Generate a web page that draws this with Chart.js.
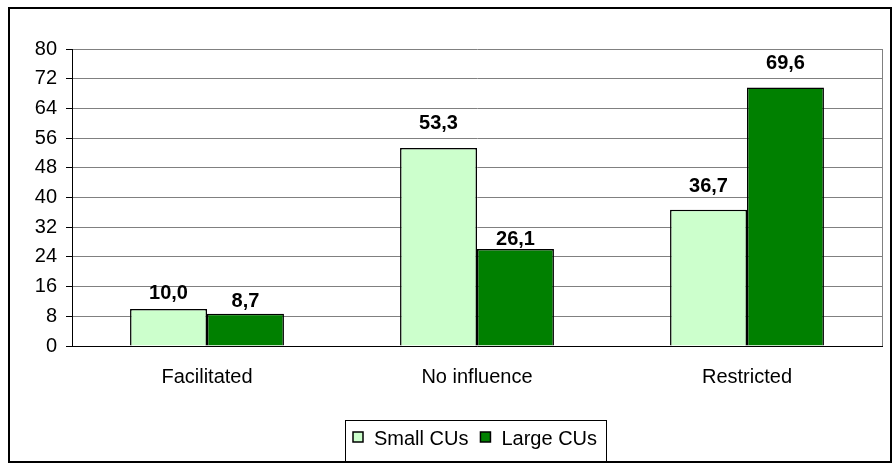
<!DOCTYPE html>
<html>
<head>
<meta charset="utf-8">
<script src="https://cdn.jsdelivr.net/npm/chart.js@4.4.0/dist/chart.umd.min.js"></script>
<style>
  html, body { margin: 0; padding: 0; background: #fff; }
  #wrap { width: 893px; height: 463px; }
</style>
</head>
<body>
<div id="wrap"><canvas id="myChart" width="893" height="463"></canvas></div>
<script>
// categories along the x-axis
var categories = ["Facilitated", "No influence", "Restricted"];
// series values (percent)
var smallCUs = [10.0, 53.3, 36.7];
var largeCUs = [8.7, 26.1, 69.6];
// y axis ticks
var yMax = 80;
var yStep = 8;

var FONT = '"Liberation Sans", Arial, sans-serif';
// how far each value label sits above its bar (px), per series
var labelLift = [[10, 19, 18], [7, 4, 19]];

// frame around the whole chart, gray right edge of plot area, custom boxed legend
var framePlugin = {
  id: 'frame',
  afterDraw: function (chart) {
    var c = chart.ctx;
    var a = chart.chartArea;
    c.save();
    c.strokeStyle = '#808080';
    c.lineWidth = 1;
    c.beginPath();
    c.moveTo(Math.round(a.right) + 0.5, a.top);
    c.lineTo(Math.round(a.right) + 0.5, a.bottom);
    c.stroke();
    c.strokeStyle = '#000';
    c.lineWidth = 2;
    c.strokeRect(9, 8, 882, 454);

    // legend
    c.lineWidth = 1;
    c.strokeRect(345.5, 420.5, 261, 41);
    c.font = '20px ' + FONT;
    c.textBaseline = 'alphabetic';
    c.textAlign = 'left';
    var x = 353;
    chart.data.datasets.forEach(function (ds) {
      c.fillStyle = ds.backgroundColor;
      c.fillRect(x, 432, 10, 10);
      c.strokeStyle = '#000';
      c.lineWidth = 1.5;
      c.strokeRect(x, 432, 10, 10);
      c.fillStyle = '#000';
      c.fillText(ds.label, x + 21, 445);
      x += 21 + c.measureText(ds.label).width + 12;
    });
    c.restore();
  }
};

// value labels above bars
var labelPlugin = {
  id: 'valueLabels',
  afterDatasetsDraw: function (chart) {
    var c = chart.ctx;
    c.save();
    c.font = 'bold 20px ' + FONT;
    c.fillStyle = '#000';
    c.textAlign = 'center';
    c.textBaseline = 'alphabetic';
    chart.data.datasets.forEach(function (ds, i) {
      chart.getDatasetMeta(i).data.forEach(function (bar, j) {
        c.fillText(ds.data[j].toFixed(1).replace('.', ','), bar.x, bar.y - labelLift[i][j]);
      });
    });
    c.restore();
  }
};

var ctx = document.getElementById("myChart");
var myChart = new Chart(ctx, {
  type: 'bar',
  data: {
    labels: categories,
    datasets: [
      {
        label: "Small CUs",
        data: smallCUs,
        backgroundColor: "#CCFFCC",
        borderColor: "#000",
        borderWidth: 1.5
      },
      {
        label: "Large CUs",
        data: largeCUs,
        backgroundColor: "#008000",
        borderColor: "#000",
        borderWidth: 1.5
      }
    ]
  },
  options: {
    responsive: false,
    animation: false,
    layout: { padding: { left: 0, right: 11, top: 49, bottom: 0 } },
    datasets: {
      bar: { categoryPercentage: 0.57, barPercentage: 1.0 }
    },
    plugins: {
      legend: { display: false },
      tooltip: { enabled: false }
    },
    scales: {
      x: {
        afterFit: function (scale) { scale.height = 117; },
        grid: { display: false },
        border: { color: '#000', width: 1 },
        ticks: {
          color: '#000',
          padding: 11,
          font: { family: FONT, size: 20 }
        }
      },
      y: {
        min: 0,
        max: yMax,
        afterFit: function (scale) { scale.width = 72; },
        grid: { color: '#808080', tickColor: '#000', tickLength: 6 },
        border: { color: '#000', width: 1 },
        ticks: {
          stepSize: yStep,
          color: '#000',
          padding: 9,
          font: { family: FONT, size: 20 }
        }
      }
    }
  },
  plugins: [framePlugin, labelPlugin]
});
</script>
</body>
</html>
